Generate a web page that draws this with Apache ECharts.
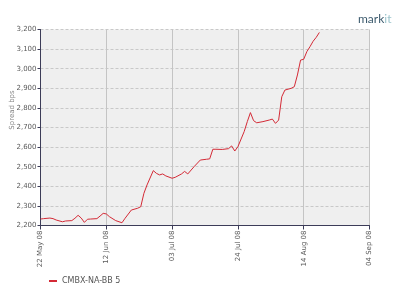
<!DOCTYPE html>
<html>
<head>
<meta charset="utf-8">
<script src="https://cdn.jsdelivr.net/npm/echarts@6/dist/echarts.min.js"></script>
<style>
html,body{margin:0;padding:0;background:#fff;}
#c{width:400px;height:292px;}
</style>
</head>
<body>
<div id="c"></div>
<script>
var startDate = '2008-05-22';
var endDate = '2008-09-04';
var seriesName = 'CMBX-NA-BB 5';
var dates = ['2008-05-22','2008-05-23','2008-05-25','2008-05-26','2008-05-27','2008-05-29','2008-05-30','2008-06-01','2008-06-02','2008-06-03','2008-06-04','2008-06-05','2008-06-06','2008-06-07','2008-06-09','2008-06-10','2008-06-11','2008-06-12','2008-06-13','2008-06-15','2008-06-17','2008-06-18','2008-06-20','2008-06-22','2008-06-23','2008-06-24','2008-06-25','2008-06-27','2008-06-28','2008-06-29','2008-06-30','2008-07-01','2008-07-03','2008-07-04','2008-07-06','2008-07-07','2008-07-08','2008-07-10','2008-07-12','2008-07-14','2008-07-15','2008-07-16','2008-07-17','2008-07-19','2008-07-21','2008-07-22','2008-07-23','2008-07-24','2008-07-26','2008-07-27','2008-07-28','2008-07-29','2008-07-30','2008-08-01','2008-08-03','2008-08-04','2008-08-05','2008-08-06','2008-08-07','2008-08-08','2008-08-10','2008-08-11','2008-08-12','2008-08-13','2008-08-14','2008-08-15','2008-08-16','2008-08-17','2008-08-18','2008-08-19'];
var spreads = [2233,2235,2238,2235,2228,2219,2223,2225,2237,2252,2238,2216,2232,2233,2235,2248,2262,2259,2245,2225,2214,2237,2279,2288,2296,2364,2407,2480,2466,2458,2463,2453,2441,2446,2463,2476,2463,2500,2534,2538,2540,2589,2589,2588,2592,2606,2580,2602,2679,2730,2776,2735,2724,2730,2738,2743,2721,2738,2857,2891,2900,2908,2968,3044,3048,3087,3112,3140,3160,3185];
var yMin = 2200, yMax = 3200, yStep = 100;
var xStepDays = 21;

var DAY = 86400000;
var t0 = Date.parse(startDate + 'T00:00:00Z');
var xMax = (Date.parse(endDate + 'T00:00:00Z') - t0) / DAY;
var data = dates.map(function(d, i){ return [(Date.parse(d + 'T00:00:00Z') - t0) / DAY, spreads[i]]; });
var MON = ['Jan','Feb','Mar','Apr','May','Jun','Jul','Aug','Sep','Oct','Nov','Dec'];
function fmtDate(off){
  var d = new Date(t0 + off * DAY);
  var dd = ('0' + d.getUTCDate()).slice(-2);
  var yy = ('0' + (d.getUTCFullYear() % 100)).slice(-2);
  return dd + ' ' + MON[d.getUTCMonth()] + ' ' + yy;
}
function fmtNum(v){ return String(v).replace(/\B(?=(\d{3})+(?!\d))/g, ','); }

var FONT = 'DejaVu Sans';
var chart = echarts.init(document.getElementById('c'), null, {renderer:'canvas'});
chart.setOption({
  animation: false,
  backgroundColor: '#ffffff',
  grid: {left: 40.5, right: 30.5, top: 29.5, bottom: 66.5, show: true, backgroundColor: '#efefef', borderWidth: 0},
  xAxis: {
    type: 'value', min: 0, max: xMax, interval: xStepDays,
    axisLine: {show: true, lineStyle: {color: '#3c3c58', width: 1}},
    axisTick: {show: true, length: 4, lineStyle: {color: '#3c3c58'}},
    axisLabel: {rotate: 90, margin: 5, fontFamily: FONT, fontSize: 7, color: '#5a5a5a', formatter: fmtDate},
    splitLine: {show: true, lineStyle: {color: '#c4c4c4', width: 1, type: 'solid'}}
  },
  yAxis: {
    type: 'value', min: yMin, max: yMax, interval: yStep,
    axisLine: {show: true, lineStyle: {color: '#3c3c58', width: 1}},
    axisTick: {show: true, length: 3, lineStyle: {color: '#3c3c58'}},
    axisLabel: {margin: 4, fontFamily: FONT, fontSize: 7, color: '#5a5a5a', formatter: fmtNum},
    splitLine: {show: true, lineStyle: {color: '#c8c8c8', width: 1, type: [3, 2]}}
  },
  legend: {
    show: true, left: 44, top: 272, itemWidth: 8, itemHeight: 2, itemGap: 4,
    icon: 'rect',
    textStyle: {fontFamily: FONT, fontSize: 8, color: '#555'},
    data: [seriesName]
  },
  graphic: [
    {type: 'text', left: 358, top: 13, style: {
      text: '{a|mark}{b|it}', fontFamily: 'Lato', fontSize: 12,
      rich: {a: {fill: '#3d5b6e', fontFamily: 'Lato', fontSize: 12}, b: {fill: '#9cc4cc', fontFamily: 'Lato', fontSize: 12}}
    }},
    {type: 'text', x: 12, y: 110, rotation: Math.PI / 2, style: {
      text: 'Spread bps', fontFamily: FONT, fontSize: 7, fill: '#888', textAlign: 'center', textVerticalAlign: 'middle'
    }}
  ],
  series: [{
    name: seriesName, type: 'line', data: data, showSymbol: false, symbol: 'none',
    lineStyle: {color: '#d42a36', width: 1}, itemStyle: {color: '#d42a36'}
  }]
});
</script>
</body>
</html>
